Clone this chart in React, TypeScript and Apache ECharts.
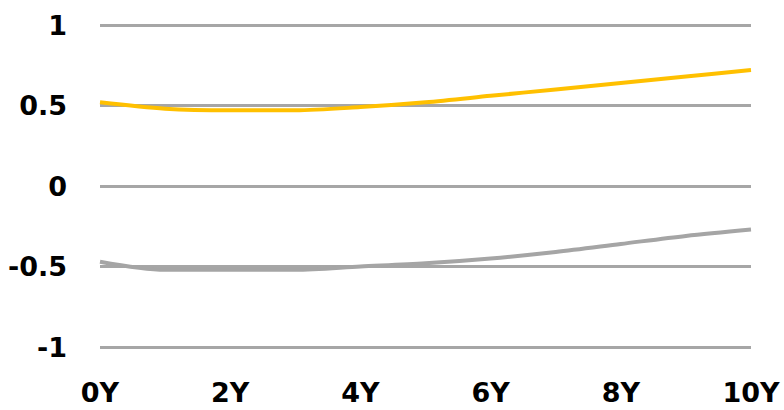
import React, { useEffect, useRef } from "react";
import * as echarts from "echarts";

const categories = ["0Y", "1Y", "2Y", "3Y", "4Y", "5Y", "6Y", "7Y", "8Y", "9Y", "10Y"];
const yellowSeries = [0.52, 0.48, 0.47, 0.47, 0.49, 0.52, 0.56, 0.6, 0.64, 0.68, 0.72];
const graySeries = [-0.47, -0.52, -0.52, -0.52, -0.5, -0.48, -0.45, -0.41, -0.36, -0.31, -0.27];
const yTicks = { min: -1, max: 1, interval: 0.5 };

export default function App() {
  const ref = useRef<HTMLDivElement>(null);
  useEffect(() => {
    if (!ref.current) return;
    const chart = echarts.init(ref.current, null, { renderer: "svg" });
    const labelFont = {
      fontFamily: "DejaVu Sans",
      fontWeight: "bold" as const,
      fontSize: 27,
      color: "#000",
    };
    chart.setOption({
      animation: false,
      grid: { left: 100, right: 33, top: 25, bottom: 63, containLabel: false },
      xAxis: {
        type: "category",
        data: categories,
        boundaryGap: false,
        axisLine: { show: false },
        axisTick: { show: false },
        axisLabel: { ...labelFont, interval: 1, margin: 32 },
        splitLine: { show: false },
      },
      yAxis: {
        type: "value",
        min: yTicks.min,
        max: yTicks.max,
        interval: yTicks.interval,
        axisLine: { show: false },
        axisTick: { show: false },
        axisLabel: {
          ...labelFont,
          margin: 33,
          formatter: (v: number) => String(v),
        },
        splitLine: { lineStyle: { color: "#a6a6a6", width: 3 } },
      },
      series: [
        {
          type: "line",
          data: yellowSeries,
          smooth: 0.3,
          symbol: "none",
          lineStyle: { color: "#ffc000", width: 4 },
        },
        {
          type: "line",
          data: graySeries,
          smooth: 0.3,
          symbol: "none",
          lineStyle: { color: "#a5a5a5", width: 4 },
        },
      ],
    });
    return () => chart.dispose();
  }, []);
  return <div ref={ref} style={{ width: 784, height: 410, position: "absolute", left: 0, top: 0 }} />;
}
